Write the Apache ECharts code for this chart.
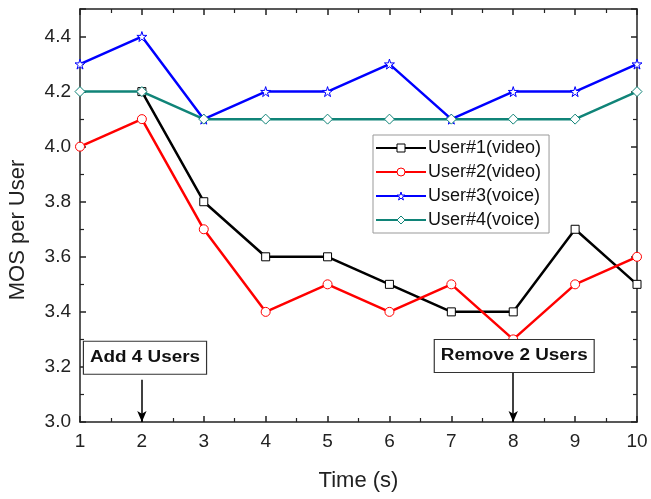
<!DOCTYPE html>
<html>
<head>
<meta charset="utf-8">
<script src="https://cdn.jsdelivr.net/npm/echarts@6/dist/echarts.min.js"></script>
<style>
html,body{margin:0;padding:0;background:#fff;}
#chart{width:651px;height:499px;}
</style>
</head>
<body>
<div id="chart"></div>
<script>
// Time steps (s)
const times = [1, 2, 3, 4, 5, 6, 7, 8, 9, 10];
// MOS per user over time (null = user not yet active)
const user1Video = [null, 4.2, 3.8, 3.6, 3.6, 3.5, 3.4, 3.4, 3.7, 3.5];
const user2Video = [4.0, 4.1, 3.7, 3.4, 3.5, 3.4, 3.5, 3.3, 3.5, 3.6];
const user3Voice = [4.3, 4.4, 4.1, 4.2, 4.2, 4.3, 4.1, 4.2, 4.2, 4.3];
const user4Voice = [4.2, 4.2, 4.1, 4.1, 4.1, 4.1, 4.1, 4.1, 4.1, 4.2];
const seriesNames = ['User#1(video)', 'User#2(video)', 'User#3(voice)', 'User#4(voice)'];
// Events: [time, label, arrow start value]
const events = [[2, 'Add 4 Users', 3.153], [8, 'Remove 2 Users', 3.178]];

const pairs = vals => times.map((t, i) => [t, vals[i]]);
const colors = ['#000000', '#ff0000', '#0000ff', '#108478'];
const symbols = ['rect', 'circle', 'path://M50,0 L61,35 L98,35 L68,57 L79,91 L50,70 L21,91 L32,57 L2,35 L39,35 Z', 'diamond'];
const sizes = [8, 9, 10, 10];
const allData = [user1Video, user2Video, user3Voice, user4Voice];

const chart = echarts.init(document.getElementById('chart'));
const font = 'Arial, "Liberation Sans", sans-serif';

const series = allData.map((d, i) => ({
  name: seriesNames[i],
  type: 'line',
  data: pairs(d),
  symbol: symbols[i],
  symbolSize: sizes[i],
  showAllSymbol: true,
  lineStyle: { color: colors[i], width: 2.5 },
  itemStyle: { color: '#ffffff', borderColor: colors[i], borderWidth: 1, opacity: 1 },
  emphasis: { disabled: true },
  z: 2 + i
}));

// arrows for the events
series.push({
  type: 'line',
  data: [],
  silent: true,
  markLine: {
    silent: true,
    symbol: ['none', 'arrow'],
    symbolSize: [7, 11],
    lineStyle: { color: '#000', width: 1.5, type: 'solid' },
    label: { show: false },
    data: events.map(e => [{ coord: [e[0], e[2]] }, { coord: [e[0], 3.0] }])
  }
});

const axisCommon = {
  axisLine: { show: true, lineStyle: { color: '#222', width: 1.5 } },
  axisTick: { show: true, inside: true, length: 6, lineStyle: { color: '#222', width: 1.5 } },
  minorTick: { show: true, splitNumber: 2, length: 4, lineStyle: { color: '#222', width: 1.2 } },
  splitLine: { show: false },
  nameTextStyle: { fontFamily: font, fontSize: 21, color: '#222' },
  axisLabel: { fontFamily: font, fontSize: 19, color: '#222', margin: 10 }
};

chart.setOption({
  animation: false,
  backgroundColor: '#fff',
  grid: { left: 80, right: 14, top: 9, bottom: 77, containLabel: false, outerBoundsMode: 'none' },
  legend: {
    data: seriesNames.map((n, i) => ({
      name: n,
      itemStyle: { color: '#ffffff', borderColor: colors[i], borderWidth: 1 }
    })),
    orient: 'vertical',
    left: 373,
    top: 135,
    padding: [4, 8, 4, 2],
    itemGap: 6,
    itemWidth: 50,
    itemHeight: 10,
    backgroundColor: '#fff',
    borderColor: '#999',
    borderWidth: 1,
    borderRadius: 0,
    textStyle: { fontFamily: font, fontSize: 18, color: '#111', padding: [0, 0, 0, -3] }
  },
  xAxis: [
    Object.assign({}, axisCommon, {
      type: 'value', min: 1, max: 10, interval: 1,
      name: 'Time (s)', nameLocation: 'middle', nameGap: 48,
      nameTextStyle: { fontFamily: font, fontSize: 22, color: '#222' }
    }),
    Object.assign({}, axisCommon, {
      type: 'value', min: 1, max: 10, interval: 1, position: 'top',
      axisLabel: { show: false }
    })
  ],
  yAxis: [
    Object.assign({}, axisCommon, {
      type: 'value', min: 3.0, max: 4.5, interval: 0.2,
      name: 'MOS per User', nameLocation: 'middle', nameGap: 51,
      nameTextStyle: { fontFamily: font, fontSize: 22, color: '#222', padding: [0, 29, 0, 0] },
      axisLabel: Object.assign({}, axisCommon.axisLabel, {
        showMaxLabel: false,
        margin: 9,
        formatter: v => v.toFixed(1)
      })
    }),
    Object.assign({}, axisCommon, {
      type: 'value', min: 3.0, max: 4.5, interval: 0.2, position: 'right',
      axisLabel: { show: false }
    })
  ],
  series: series
});

// event label boxes placed relative to the axes
function placeEventBoxes() {
  const boxes = [
    { t: events[0][0], text: events[0][1], left: 84, yVal: 3.233 },
    { t: events[1][0], text: events[1][1], yVal: 3.24 }
  ];
  const elements = boxes.map((b, i) => {
    const p = chart.convertToPixel({ xAxisIndex: 0, yAxisIndex: 0 }, [b.t, b.yVal]);
    const el = {
      type: 'text',
      z: 20,
      scaleX: 1.18,
      style: {
        text: b.text,
        font: 'bold 16px Arial, "Liberation Sans", sans-serif',
        fill: '#111',
        backgroundColor: '#fff',
        borderColor: '#333',
        borderWidth: 1,
        padding: [8, 5, 8, 5],
        verticalAlign: 'middle'
      }
    };
    el.y = p[1];
    if (i === 0) {
      el.x = b.left;
      el.style.align = 'left';
    } else {
      el.x = p[0] + 1;
      el.style.align = 'center';
    }
    return el;
  });
  chart.setOption({ graphic: elements });
}
placeEventBoxes();
</script>
</body>
</html>
